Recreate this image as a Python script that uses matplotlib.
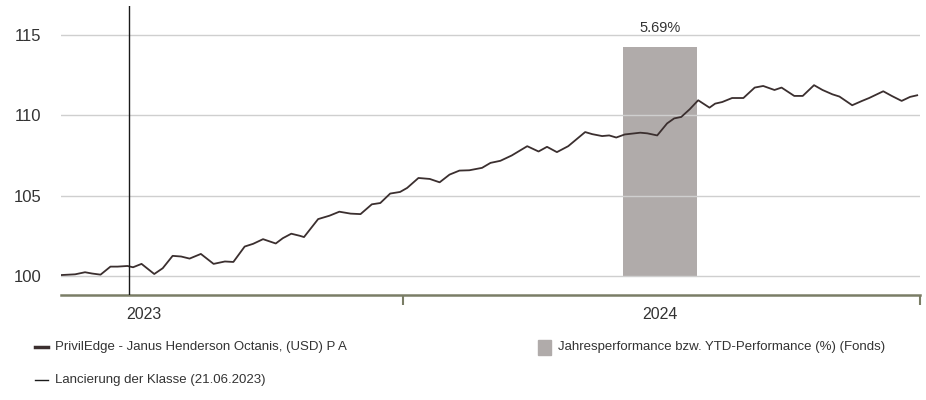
import matplotlib
matplotlib.use("Agg")
import matplotlib.pyplot as plt
from matplotlib.lines import Line2D
from matplotlib.patches import Rectangle
import numpy as np

plt.rcParams['font.family'] = ['Liberation Sans Narrow', 'Liberation Sans', 'DejaVu Sans']

# fund series (indexed to 100)
dates = ["2023-05-03", "2023-05-14", "2023-05-21", "2023-05-26", "2023-06-01",
         "2023-06-08", "2023-06-13", "2023-06-20", "2023-06-24", "2023-06-30",
         "2023-07-09", "2023-07-15", "2023-07-22", "2023-07-28", "2023-08-03",
         "2023-08-11", "2023-08-20", "2023-08-28", "2023-09-03", "2023-09-11",
         "2023-09-17", "2023-09-24", "2023-09-27", "2023-10-03", "2023-10-08",
         "2023-10-14", "2023-10-20", "2023-10-23", "2023-11-02", "2023-11-10",
         "2023-11-17", "2023-11-25", "2023-12-02", "2023-12-10", "2023-12-16",
         "2023-12-23", "2023-12-30", "2024-01-04", "2024-01-12", "2024-01-20",
         "2024-01-27", "2024-02-03", "2024-02-10", "2024-02-17", "2024-02-26",
         "2024-03-03", "2024-03-10", "2024-03-18", "2024-03-29", "2024-04-06",
         "2024-04-12", "2024-04-19", "2024-04-27", "2024-05-09", "2024-05-14",
         "2024-05-21", "2024-05-26", "2024-05-31", "2024-06-06", "2024-06-17",
         "2024-06-22", "2024-06-29", "2024-07-06", "2024-07-11", "2024-07-16",
         "2024-07-22", "2024-07-28", "2024-08-05", "2024-08-09", "2024-08-14",
         "2024-08-21", "2024-08-29", "2024-09-06", "2024-09-12", "2024-09-20",
         "2024-09-25", "2024-10-04", "2024-10-10", "2024-10-18", "2024-10-24",
         "2024-10-31", "2024-11-05", "2024-11-14", "2024-11-21", "2024-11-26",
         "2024-12-06", "2024-12-12", "2024-12-19", "2024-12-25", "2024-12-30"]
values = [100.05, 100.10, 100.23, 100.15, 100.08,
          100.58, 100.58, 100.62, 100.54, 100.75,
          100.12, 100.48, 101.25, 101.21, 101.08,
          101.37, 100.75, 100.90, 100.87, 101.83,
          102.00, 102.29, 102.20, 102.02, 102.35,
          102.63, 102.50, 102.42, 103.54, 103.75,
          104.00, 103.88, 103.85, 104.46, 104.54,
          105.13, 105.23, 105.48, 106.10, 106.04,
          105.83, 106.31, 106.56, 106.58, 106.73,
          107.04, 107.17, 107.50, 108.08, 107.75,
          108.04, 107.71, 108.08, 108.96, 108.83,
          108.71, 108.75, 108.62, 108.81, 108.92,
          108.88, 108.75, 109.50, 109.81, 109.90,
          110.38, 110.94, 110.48, 110.73, 110.83,
          111.08, 111.08, 111.73, 111.83, 111.58,
          111.73, 111.21, 111.21, 111.88, 111.58,
          111.31, 111.17, 110.63, 110.90, 111.08,
          111.50, 111.21, 110.90, 111.15, 111.25]

# yearly / YTD performance bar
bar_centers = ["2024-07-01"]
bar_values = [5.69]
bar_labels = ["5.69%"]

launch_date = "2023-06-21"
series_name = "PrivilEdge - Janus Henderson Octanis, (USD) P A"
bar_name = "Jahresperformance bzw. YTD-Performance (%) (Fonds)"
launch_name = "Lancierung der Klasse (21.06.2023)"

line_color = "#3b2f2f"
bar_color = "#b0abaa"
axis_color = "#7a7d66"
grid_color = "#cfcfcf"
text_color = "#333333"

x = np.array(dates, dtype="datetime64[D]")
fig = plt.figure(figsize=(9.26, 4.0), dpi=100)
ax = fig.add_axes([61 / 926, 1 - 295 / 400, 859 / 926, 289 / 400])
ymin, ymax = 98.8125, 116.81
ax.set_ylim(ymin, ymax)
ax.set_xlim(np.datetime64("2023-05-04"), np.datetime64("2025-01-01"))

# secondary scale for the bar: 0% sits on the 100 line, 5.69% at ~114.25
k = 5.69 / 14.25
ax2 = ax.twinx()
ax2.set_ylim((ymin - 100) * k, (ymax - 100) * k)
ax2.set_xlim(ax.get_xlim())
ax2.axis("off")
bx = np.array(bar_centers, dtype="datetime64[D]")
ax2.bar(bx, bar_values, width=52, color=bar_color, zorder=1)
for c, v, lab in zip(bx, bar_values, bar_labels):
    ax2.text(c, v + 0.3, lab, ha="center", va="bottom", fontsize=10.5, color=text_color)

ax.set_zorder(ax2.get_zorder() + 1)
ax.patch.set_visible(False)

for yv in [100, 105, 110, 115]:
    ax.axhline(yv, color=grid_color, lw=1, zorder=0)
ax.plot(x, values, color=line_color, lw=1.3, zorder=3)
ax.axvline(np.datetime64(launch_date), color="#1a1a1a", lw=1.0, zorder=4)

for s in ["top", "right", "left"]:
    ax.spines[s].set_visible(False)
ax.spines["bottom"].set_color(axis_color)
ax.spines["bottom"].set_linewidth(1.8)

ax.set_yticks([100, 105, 110, 115])
ax.tick_params(axis="y", length=0, pad=14, labelsize=12, labelcolor=text_color)
ax.set_xticks([np.datetime64("2024-01-01"), np.datetime64("2025-01-01")])
ax.set_xticklabels([])
ax.tick_params(axis="x", length=7, width=1.5, color=axis_color)
# year labels centred in each year
for yr, xc in [("2023", "2023-07-02"), ("2024", "2024-07-01")]:
    ax.text(np.datetime64(xc), -0.04, yr, transform=ax.get_xaxis_transform(),
            ha="center", va="top", fontsize=11.5, color=text_color)

# legend
fig.add_artist(Line2D([35 / 926, 48 / 926], [1 - 347 / 400] * 2, color=line_color, lw=2.5))
fig.text(55 / 926, 1 - 347 / 400, series_name, va="center", fontsize=9.5, color=text_color)
fig.add_artist(Rectangle((538 / 926, 1 - 355 / 400), 13 / 926, 15 / 400, color=bar_color))
fig.text(558 / 926, 1 - 347 / 400, bar_name, va="center", fontsize=9.5, color=text_color)
fig.add_artist(Line2D([35 / 926, 48 / 926], [1 - 380 / 400] * 2, color="#1a1a1a", lw=1))
fig.text(55 / 926, 1 - 380 / 400, launch_name, va="center", fontsize=9.5, color=text_color)

fig.savefig("out.png", dpi=100)
